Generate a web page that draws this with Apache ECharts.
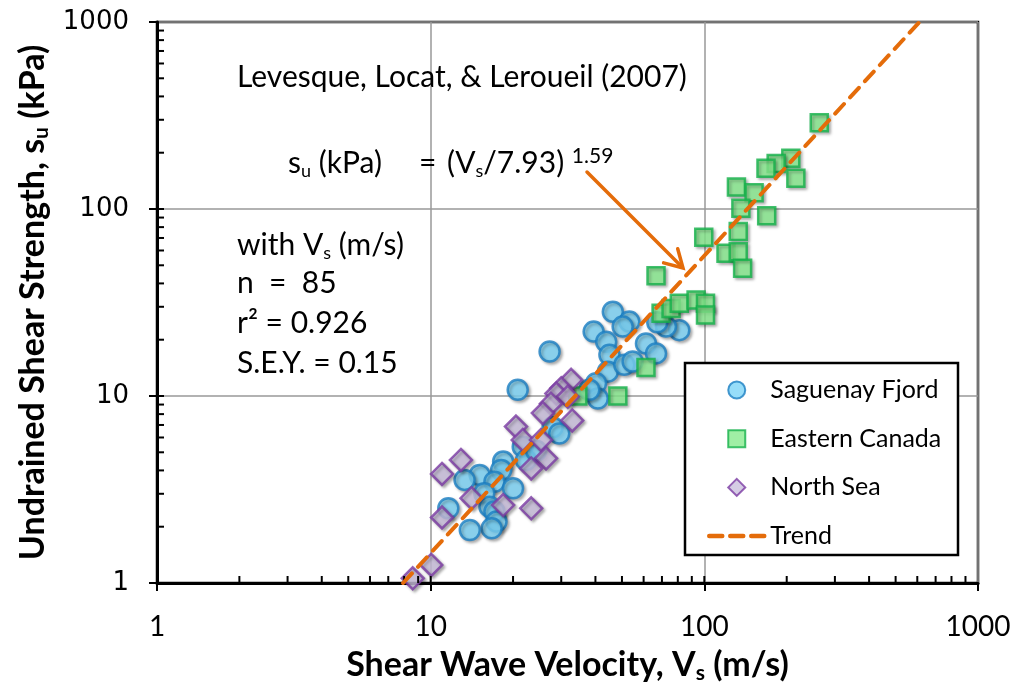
<!DOCTYPE html>
<html>
<head>
<meta charset="utf-8">
<style>html,body{margin:0;padding:0;background:#fff;}#chart{width:1014px;height:683px;}</style>
<script src="https://cdn.jsdelivr.net/npm/echarts@6/dist/echarts.min.js"></script>
</head>
<body>
<div id="chart"></div>
<script>
// ---- data ----
const sagVs = [46.3,53.2,50.3,39.4,43.8,61.2,66.6,81,72.4,67.3,45,44.4,51,54.7,40.2,40.8,38,27.2,20.8,27.9,29.5,21.7,22.3,24.3,18.4,18.1,15.1,13.3,17.1,20,15.7,16.4,17.1,17.4,16.7,11.6,13.9];
const sagSu = [28.2,25,23.5,22.1,19.5,19.1,16.9,22.5,23.5,24.8,16.6,13.5,14.7,15.3,11.7,9.7,10.8,17.3,10.8,6.8,6.3,5.36,4.54,5.1,4.46,4.02,3.78,3.56,3.48,3.21,3.02,2.56,2.41,2.13,1.96,2.51,1.92];
const canVs = [263,207,183,168,216,131,152,136,169,99.5,133,120,133,138,66.6,69.5,75.6,81,93.3,101,101,61.2,48.3,34.5];
const canSu = [289,187,175,165,146,131,122,101,92,70.6,75.7,58,59,48.2,44,27.7,29.4,31.3,32.6,31.3,27.1,14.2,10,10];
const nsVs = [32.6,30,28.8,31.7,27.5,25.7,32.9,20.5,21.7,25.3,26.4,23.3,12.9,11,14.1,18.4,23.3,11,10.05,8.6];
const nsSu = [12.2,11,10.3,9.9,9.1,8.1,7.4,6.86,5.82,5.82,4.64,4.1,4.55,3.83,2.84,2.61,2.51,2.24,1.25,1.06];
const trendVs = [7.93, 611];
const trendSu = [1, 1000];
const xTickLabels = ['1','10','100','1000'];
const yTickLabels = ['1','10','100','1000'];
const xInsideTicks = [2,3,4,5,6,7,8,9,10,20,30,40,50,60,70,80,90,100,200,300,400,500,600,700,800,900];
const yInsideTicks = [2,3,4,5,6,7,8,9,10,20,30,40,50,60,70,80,90,100,200,300,400,500,600,700,800,900];

const zip = (a, b) => a.map((v, i) => [v, b[i]]);
const shadow = {shadowBlur: 3, shadowColor: 'rgba(0,0,0,0.35)', shadowOffsetX: 2, shadowOffsetY: 2};
const ORANGE = '#E46C0A';
const FONT = 'Lato';
const FS = 30, LH = 34;
const subStyle = {fontFamily: FONT, fontSize: 18, verticalAlign: 'bottom', lineHeight: 22, fill: '#000'};
const supStyle = {fontFamily: FONT, fontSize: 21, verticalAlign: 'top', lineHeight: 21, fill: '#000'};
const txt = (text, left, top, rich) => ({type: 'text', z: 6, left: left, top: top,
  style: {text: text, fontFamily: FONT, fontSize: FS, lineHeight: LH, fill: '#000', rich: rich || {}}});
const SQUARE_ICON = 'path://M0,0L10,0L10,10L0,10Z';
const DIAMOND_ICON = 'path://M5,0L10,5L5,10L0,5Z';

const chart = echarts.init(document.getElementById('chart'), null, {renderer: 'canvas'});
chart.setOption({
  animation: false,
  backgroundColor: '#fff',
  grid: {left: 157, right: 36, top: 22, bottom: 100, show: true, borderColor: '#000', borderWidth: 2.5,
    containLabel: false, outerBoundsMode: 'none'},
  xAxis: {
    type: 'log', logBase: 10, min: 1, max: 1000,
    axisLine: {lineStyle: {color: '#000', width: 3}},
    axisTick: {show: true, inside: false, length: 8, lineStyle: {color: '#000', width: 2}},
    splitLine: {show: true, lineStyle: {color: '#999999', width: 1.5}},
    axisLabel: {margin: 30, fontFamily: FONT, fontSize: 28, color: '#000',
      formatter: v => xTickLabels[Math.round(Math.log10(v))]},
    name: 'Shear Wave Velocity, V{sub|s} (m/s)',
    nameLocation: 'middle', nameGap: 62,
    nameTextStyle: {fontFamily: FONT, fontWeight: 'bold', fontSize: 34, lineHeight: 38, color: '#000',
      rich: {sub: {fontFamily: FONT, fontWeight: 'bold', fontSize: 21, verticalAlign: 'bottom', lineHeight: 25, color:'#000'}}}
  },
  yAxis: {
    type: 'log', logBase: 10, min: 1, max: 1000,
    axisLine: {lineStyle: {color: '#000', width: 3}},
    axisTick: {show: true, inside: false, length: 8, lineStyle: {color: '#000', width: 2}},
    splitLine: {show: true, lineStyle: {color: '#999999', width: 1.5}},
    axisLabel: {margin: 28, fontFamily: 'DejaVu Sans', fontSize: 26, color: '#000',
      formatter: v => yTickLabels[Math.round(Math.log10(v))]},
    name: 'Undrained Shear Strength, s{sub|u} (kPa)',
    nameLocation: 'middle', nameGap: 104,
    nameTextStyle: {fontFamily: FONT, fontWeight: 'bold', fontSize: 34, lineHeight: 38, color: '#000',
      rich: {sub: {fontFamily: FONT, fontWeight: 'bold', fontSize: 21, verticalAlign: 'bottom', lineHeight: 25, color:'#000'}}}
  },
  legend: {
    orient: 'vertical', left: 702, top: 371,
    itemWidth: 55, itemHeight: 17, itemGap: 20.7,
    symbolKeepAspect: true,
    data: [
      {name: 'Saguenay Fjord', icon: 'circle'},
      {name: 'Eastern Canada', icon: SQUARE_ICON},
      {name: 'North Sea', icon: DIAMOND_ICON},
      {name: 'Trend', itemStyle: {opacity: 0}, lineStyle: {color: ORANGE, width: 4.5, type: [13, 8], cap: 'round'}}
    ],
    textStyle: {fontFamily: FONT, fontSize: 25, color: '#000', lineHeight: 28, padding: [0,0,0,1]},
    z: 10
  },
  graphic: [
    {type: 'rect', z: 5, shape: {x: 685, y: 363, width: 273, height: 192},
      style: {fill: '#fff', stroke: '#000', lineWidth: 2.5}},
    txt('Levesque, Locat, & Leroueil (2007)', 237, 60),
    txt('s{sub|u} (kPa)', 288, 146, {sub: subStyle}),
    txt('=', 419, 146),
    txt('(V{sub|s}/7.93) {sup|1.59}', 447, 146, {sub: subStyle, sup: supStyle}),
    txt('with V{sub|s} (m/s)', 237, 228, {sub: subStyle}),
    txt('n  =  85', 237, 266),
    txt('r² = 0.926', 237, 306),
    txt('S.E.Y. = 0.15', 237, 346),
    {type: 'line', z: 6, shape: {x1: 587, y1: 172, x2: 682, y2: 267},
      style: {stroke: ORANGE, lineWidth: 3.5, lineCap: 'round'}},
    {type: 'polyline', z: 6, shape: {points: [[663.6, 262.9], [683, 268], [677.7, 248.7]]},
      style: {stroke: ORANGE, lineWidth: 3.5, lineCap: 'round', lineJoin: 'miter', fill: null}}
  ],
  series: [
    {type: 'custom', name: 'xticks', silent: true, clip: false, z: 3,
      data: xInsideTicks.map(v => [v, 1]),
      renderItem: (params, api) => {
        const p = api.coord([api.value(0), 1]);
        return {type: 'line', shape: {x1: p[0], y1: p[1], x2: p[0], y2: p[1] - 7}, style: {stroke: '#000', lineWidth: 2}};
      }},
    {type: 'custom', name: 'yticks', silent: true, clip: false, z: 3,
      data: yInsideTicks.map(v => [1, v]),
      renderItem: (params, api) => {
        const p = api.coord([1, api.value(1)]);
        return {type: 'line', shape: {x1: p[0], y1: p[1], x2: p[0] + 7, y2: p[1]}, style: {stroke: '#000', lineWidth: 2}};
      }},
    {type: 'scatter', name: 'Saguenay Fjord', symbol: 'circle', symbolSize: 20,
      data: zip(sagVs, sagSu),
      itemStyle: Object.assign({color: '#7DD4F8', borderColor: '#1B7EC2', borderWidth: 2.5}, shadow)},
    {type: 'scatter', name: 'Eastern Canada', symbol: 'rect', symbolSize: 17,
      data: zip(canVs, canSu),
      itemStyle: Object.assign({color: '#88EB8E', borderColor: '#14B04A', borderWidth: 2.5}, shadow)},
    {type: 'scatter', name: 'North Sea', symbol: 'diamond', symbolSize: 22,
      data: zip(nsVs, nsSu),
      itemStyle: Object.assign({color: '#CABFDD', borderColor: '#7B3BA3', borderWidth: 2.5}, shadow)},
    {type: 'line', name: 'Trend', symbol: 'none', showSymbol: false,
      data: zip(trendVs, trendSu),
      itemStyle: {color: ORANGE},
      lineStyle: {color: ORANGE, width: 4, type: [13, 9], cap: 'round'}}
  ]
});
</script>
</body>
</html>
